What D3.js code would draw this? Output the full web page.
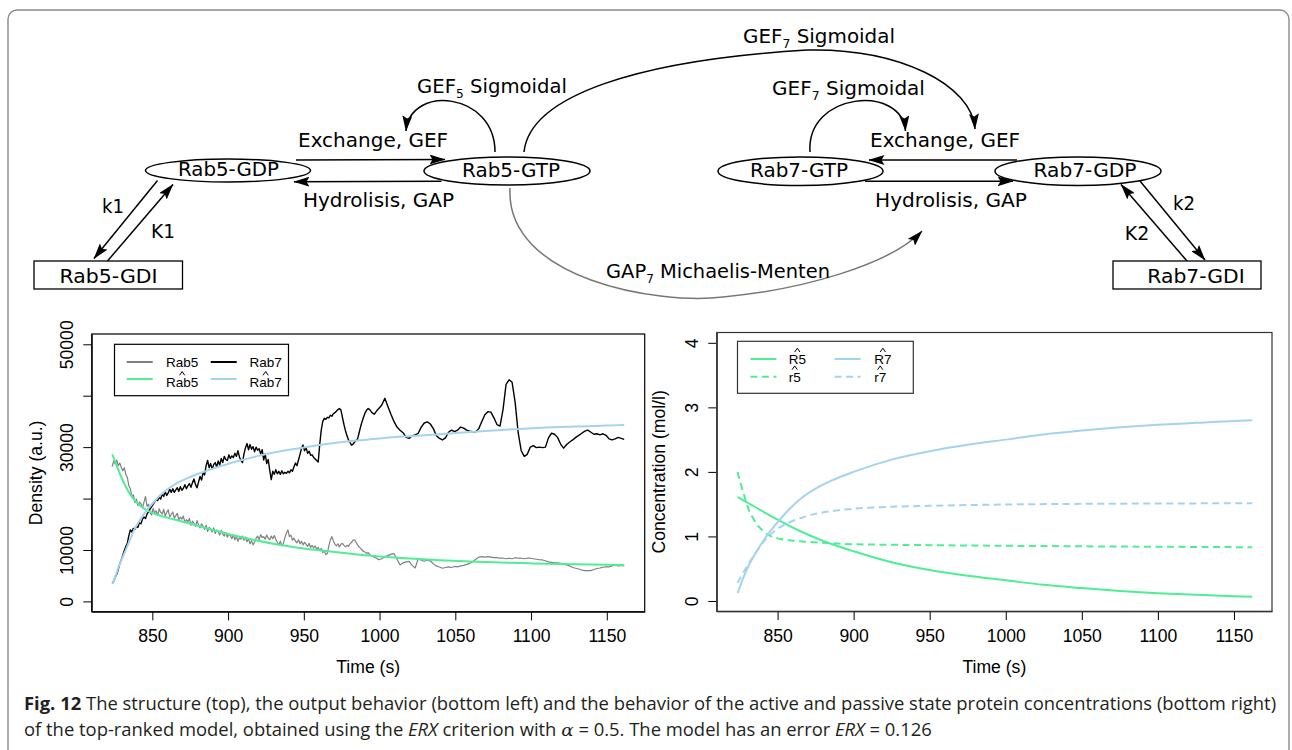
<!DOCTYPE html>
<html>
<head>
<meta charset="utf-8">
<script src="https://cdn.jsdelivr.net/npm/d3@7"></script>
<style>
  html, body { margin: 0; padding: 0; background: #fff; }
  svg { display: block; }
</style>
</head>
<body>
<svg id="fig" width="1292" height="750"></svg>
<script>
// ---------------- data ----------------
// Observed densities: 1 s sampling from 823.5 s to 999.5 s, then 2 s sampling to 1161.5 s
const obsTimeFine = d3.range(823.5, 1000, 1);
const obsTimeCoarse = d3.range(1001.5, 1162, 2);

const rab5ObsFine = [
  26200,27300,26700,27500,26400,26900,26100,25400,26000,24700,
  24100,22500,21900,20400,20700,19200,19900,18600,19300,19000,
  18200,19300,20400,18500,18900,17400,16800,18100,17200,17600,
  16700,18000,17300,17000,17900,16600,17300,17800,16500,16900,
  17400,16200,16700,17100,15800,16400,16000,16600,15300,15900,
  15500,16100,14800,15600,15200,14600,15700,14900,14300,15100,
  14600,14000,14800,13600,14400,14100,13500,14300,13200,13900,
  13500,12900,13800,13100,12700,13400,12500,13100,12800,12200,
  12900,12000,12600,11700,12400,12100,12700,11900,12500,11600,
  12200,11200,11800,11000,11500,12300,12700,12000,13000,12400,
  12600,12100,12900,12300,12000,12700,12200,12800,12100,11500,
  11000,11700,10800,11300,12400,13300,13900,12600,12900,11900,
  12300,11700,11400,12000,11200,11700,11000,11500,11100,10700,
  11300,10500,10900,10400,10800,10100,10500,9900,10300,9500,
  9800,9100,9300,10800,11900,12600,11800,11100,10800,11200,
  10600,11100,11300,10900,10600,10900,10700,11200,11500,11900,
  12000,11500,11000,10600,10300,10000,9700,9600,9300,9500,
  9100,8900,8800,8600,8500,8300,8100
];
const rab5ObsCoarse = [
  8300,8700,8900,9200,9300,8200,7100,7500,7700,7800,7000,6500,8300,8000,7800,8000,
  7900,7300,6900,6700,6450,6600,6700,6600,6800,6700,6900,7000,7200,7400,7700,8200,
  8600,8700,8600,8700,8600,8500,8500,8400,8400,8300,8400,8300,8500,8400,8400,8300,
  8400,8400,8300,8200,8100,8060,7900,7700,7600,7500,7500,7400,7300,7100,6900,6600,
  6450,6300,6100,6000,5980,6000,6200,6400,6500,6640,6700,6700,6900,7090,6900,7000,6900
];

const rab7ObsFine = [
  3500,3900,4700,5300,6200,7300,8100,9000,9900,10700,
  11300,12800,13900,13500,14200,14000,14600,14400,15300,15100,
  16000,16400,16100,17000,17400,18000,18400,18900,19300,19800,
  19600,20300,19900,20900,20400,21300,20600,21100,21800,21200,
  21900,21200,21700,22100,21400,22300,21600,22000,22700,21900,
  22500,22900,22200,23100,23800,22700,22100,23200,24300,23600,
  25100,24600,26400,27400,26000,26800,25700,26600,27000,26100,
  27300,26500,27800,27000,28200,27600,27400,28500,27800,28300,
  28000,28800,28200,29300,28100,27400,27000,28700,29900,30700,
  29500,30500,29600,30100,29100,30000,29400,29700,28700,29500,
  27500,28700,26800,27600,25500,23700,25300,24700,25600,24800,
  25300,24700,25400,24800,25100,24900,25300,25000,25600,25300,
  26200,26900,26400,27500,28600,29800,30400,29300,29900,28800,
  29200,28400,28500,28000,27700,27400,27100,30500,33300,35000,
  35600,35400,35800,35700,36200,36000,36500,36700,37000,37300,
  37500,37200,35800,34400,33200,32200,31400,30900,30400,30600,
  31000,31300,31600,32800,34000,35000,35900,36700,37200,37500,
  37300,36900,36600,36400,36800,37200,37500
];
const rab7ObsCoarse = [
  38200,39500,37900,36400,35000,33900,33300,32800,31900,31700,32200,32400,32700,33900,34700,34900,
  34500,33600,32200,31700,31400,31800,32900,33300,33000,33300,33900,33700,33300,33100,33000,33000,
  33600,35000,36300,36900,36800,35700,34400,34100,37300,42200,43100,42600,38700,32800,29300,28200,
  28600,30000,30300,29900,30000,29900,30000,31800,32700,32500,31900,30600,29800,30500,31000,31400,
  31900,32300,32700,33100,33300,32900,32500,32600,32400,32600,32300,31600,31400,31600,31900,31700,31500
];

// Fitted model outputs (density)
const rab5FitTime = [823.6,826,829,832,835,838,841,845,850,860,870,880,890,900,915,930,945,960,975,990,1005,1020,1040,1060,1080,1100,1120,1140,1161.5];
const rab5Fit     = [28600,26800,24500,22600,21000,19800,18900,18000,17200,16300,15500,14700,13900,13100,12100,11200,10500,9950,9450,9000,8650,8350,8000,7750,7550,7400,7280,7170,7080];
const rab7FitTime = [823.8,826,828,830,832,835,838,842,846,850,855,860,866,875,884,895,908,920,932,945,958,970,985,1000,1015,1030,1050,1070,1090,1110,1130,1150,1161.5];
const rab7Fit     = [3400,5200,6900,8300,9700,11800,13900,15900,17600,19000,20600,21800,22950,24200,25200,26300,27400,28300,29050,29700,30300,30800,31300,31700,32050,32300,32750,33150,33500,33800,34000,34200,34300];

// Estimated concentrations (mol/l)
const R5Time = [823.7,835,850,865,880,900,925,950,975,1000,1025,1050,1075,1100,1125,1150,1162];
const R5     = [1.61,1.46,1.26,1.08,0.93,0.77,0.60,0.48,0.39,0.32,0.25,0.20,0.155,0.12,0.095,0.075,0.067];
const r5Time = [823.7,826,828.5,831,833.5,836,839,842,846,850,860,870,885,900,950,1000,1050,1100,1162];
const r5     = [2.0,1.80,1.60,1.42,1.30,1.20,1.12,1.05,1.00,0.97,0.935,0.915,0.895,0.88,0.865,0.855,0.847,0.84,0.833];
const R7Time = [823.7,827,831,836,842,850,858,866,875,885,900,925,950,975,1000,1025,1050,1075,1100,1125,1150,1162];
const R7     = [0.12,0.33,0.55,0.76,0.98,1.22,1.43,1.60,1.74,1.86,2.00,2.19,2.32,2.42,2.50,2.58,2.64,2.69,2.73,2.76,2.79,2.80];
const r7Time = [823.7,827,831,836,842,850,858,866,875,885,900,925,950,1000,1050,1100,1162];
const r7     = [0.28,0.42,0.58,0.76,0.95,1.12,1.22,1.29,1.35,1.39,1.43,1.46,1.475,1.495,1.505,1.51,1.515];

// Axis ticks and labels
const timeTicks = [850, 900, 950, 1000, 1050, 1100, 1150];
const densityTicks = [0, 10000, 20000, 30000, 40000, 50000];
const densityTickLabels = [0, 10000, 30000, 50000];
const concTicks = [0, 1, 2, 3, 4];

// ---------------- drawing ----------------
const svg = d3.select("#fig");
const PLOT_FONT = "'Liberation Sans', Arial, Helvetica, sans-serif";
const DIAG_FONT = "'DejaVu Sans', Verdana, sans-serif";
const CAP_FONT = "'Open Sans', 'Noto Sans', sans-serif";
const GREEN = "#4EEE94", BLUE = "#A4D3EE", GREY = "#808080";

svg.append("rect").attr("width", 1292).attr("height", 750).attr("fill", "#fff");
svg.append("rect").attr("x", 8).attr("y", 10).attr("width", 1281).attr("height", 820).attr("rx", 9)
  .attr("fill", "none").attr("stroke", "#8a8a8a").attr("stroke-width", 1.4);

// text centred on cx and squeezed/stretched to a given width
function fitText(g, parts, cx, y, size, width) {
  const t = g.append("text").attr("font-size", size);
  parts.forEach(p => {
    const s = t.append("tspan").text(p.text);
    if (p.sub) s.attr("font-size", size * 0.62).attr("dy", size * 0.28);
    if (p.after) s.attr("dy", -size * 0.28);
  });
  const w = t.node().getBBox().width;
  t.attr("text-anchor", "middle")
   .attr("transform", `translate(${cx},${y}) scale(${width / w},1)`);
  return t;
}

// ---- structure diagram ----
const dg = svg.append("g").attr("font-family", DIAG_FONT);
const defs = svg.append("defs");
defs.append("marker").attr("id", "head").attr("viewBox", "0 0 16 10")
  .attr("refX", 15.5).attr("refY", 5).attr("markerWidth", 16).attr("markerHeight", 10)
  .attr("markerUnits", "userSpaceOnUse").attr("orient", "auto")
  .append("path").attr("d", "M0,0 L16,5 L0,10 L3,5 Z").attr("fill", "#000");

const species = ["Rab5-GDP", "Rab5-GTP", "Rab7-GTP", "Rab7-GDP", "Rab5-GDI", "Rab7-GDI"];
const nodeLayout = {
  "Rab5-GDP": { shape: "ellipse", cx: 228, cy: 170.5, rx: 82.5, ry: 11.5, tx: 228.5, ty: 176, tw: 101 },
  "Rab5-GTP": { shape: "ellipse", cx: 507, cy: 171, rx: 83, ry: 14, tx: 511, ty: 176.5, tw: 98 },
  "Rab7-GTP": { shape: "ellipse", cx: 800.5, cy: 171.2, rx: 82.5, ry: 14.3, tx: 799, ty: 176.5, tw: 98 },
  "Rab7-GDP": { shape: "ellipse", cx: 1078, cy: 171.2, rx: 83, ry: 14.3, tx: 1085, ty: 176.5, tw: 103 },
  "Rab5-GDI": { shape: "rect", x: 34, y: 261, w: 148.5, h: 28, tx: 108.5, ty: 282.5, tw: 98 },
  "Rab7-GDI": { shape: "rect", x: 1113, y: 261, w: 148, h: 28, tx: 1196, ty: 282.5, tw: 97.5 }
};

// reactions: straight arrows and curved regulation arrows
const reactions = [
  { d: "M296,160 L445,159.5", stroke: "#000" },
  { d: "M441.5,181.3 L294,181.7", stroke: "#000" },
  { d: "M1017,160 L869,160", stroke: "#000" },
  { d: "M865,181.3 L1013,181.3", stroke: "#000" },
  { d: "M157.5,180.5 L94,258.5", stroke: "#000" },
  { d: "M107.5,261 L173,184.5", stroke: "#000" },
  { d: "M1140,181 L1205,260", stroke: "#000" },
  { d: "M1187,261 L1121,184.5", stroke: "#000" },
  { d: "M495,152 C495,92 410,84 406,131", stroke: "#000" },
  { d: "M524,152 C530,95 640,60 807,50 C900,48 972,85 975,129", stroke: "#000" },
  { d: "M810,152 C806,92 902,84 905.5,131", stroke: "#000" },
  { d: "M510,188 C505,280 660,305 723,297 C800,290 890,265 922,231", stroke: "#777" }
];
reactions.forEach(r => {
  dg.append("path").attr("d", r.d).attr("fill", "none").attr("stroke", r.stroke)
    .attr("stroke-width", 1.5).attr("marker-end", "url(#head)");
});

species.forEach(name => {
  const n = nodeLayout[name];
  if (n.shape === "ellipse") {
    dg.append("ellipse").attr("cx", n.cx).attr("cy", n.cy).attr("rx", n.rx).attr("ry", n.ry)
      .attr("fill", "#fff").attr("stroke", "#000").attr("stroke-width", 1.5);
  } else {
    dg.append("rect").attr("x", n.x).attr("y", n.y).attr("width", n.w).attr("height", n.h)
      .attr("fill", "#fff").attr("stroke", "#000").attr("stroke-width", 1.3);
  }
  fitText(dg, [{ text: name }], n.tx, n.ty, 19, n.tw);
});

const rateLabels = [
  { parts: [{ text: "Exchange, GEF" }], x: 373, y: 146.5, w: 150 },
  { parts: [{ text: "Hydrolisis, GAP" }], x: 378.5, y: 206.5, w: 151 },
  { parts: [{ text: "Exchange, GEF" }], x: 945, y: 146.5, w: 150 },
  { parts: [{ text: "Hydrolisis, GAP" }], x: 951, y: 206.5, w: 152 },
  { parts: [{ text: "GEF" }, { text: "5", sub: true }, { text: " Sigmoidal", after: true }], x: 492, y: 92.5, w: 150 },
  { parts: [{ text: "GEF" }, { text: "7", sub: true }, { text: " Sigmoidal", after: true }], x: 819, y: 43, w: 152 },
  { parts: [{ text: "GEF" }, { text: "7", sub: true }, { text: " Sigmoidal", after: true }], x: 848.5, y: 94.5, w: 153 },
  { parts: [{ text: "GAP" }, { text: "7", sub: true }, { text: " Michaelis-Menten", after: true }], x: 718, y: 278, w: 224 },
  { parts: [{ text: "k1" }], x: 113, y: 213, w: 22 },
  { parts: [{ text: "K1" }], x: 163, y: 238, w: 24 },
  { parts: [{ text: "k2" }], x: 1184, y: 210, w: 22 },
  { parts: [{ text: "K2" }], x: 1137, y: 240, w: 24.5 }
];
rateLabels.forEach(l => fitText(dg, l.parts, l.x, l.y, 19, l.w));

// ---- time-course panels ----
function paddedDomain(ext) { const p = 0.04 * (ext[1] - ext[0]); return [ext[0] - p, ext[1] + p]; }
const timeExtent = [823.5, 1161.5];

function panel(cfg) {
  const g = svg.append("g").attr("font-family", PLOT_FONT);
  const x = d3.scaleLinear().domain(paddedDomain(timeExtent)).range([cfg.left, cfg.right]);
  const y = d3.scaleLinear().domain(paddedDomain(cfg.yExtent)).range([cfg.bottom, cfg.top]);

  // x axis
  const xa = g.append("g").attr("transform", `translate(0,${cfg.bottom})`)
    .call(d3.axisBottom(x).tickValues(timeTicks).tickSize(8.7).tickSizeOuter(0).tickFormat(d3.format("d")));
  xa.select(".domain").attr("stroke", "#000").attr("stroke-width", 1);
  xa.selectAll(".tick line").attr("stroke", "#000").attr("stroke-width", 1);
  xa.selectAll(".tick text").attr("y", 30.3).attr("dy", null).attr("font-size", 17.6).attr("fill", "#000");

  // y axis
  const ya = g.append("g").attr("transform", `translate(${cfg.left},0)`)
    .call(d3.axisLeft(y).tickValues(cfg.yTicks).tickSize(8.4).tickSizeOuter(0)
      .tickFormat(d => cfg.yLabels.includes(d) ? String(d) : ""));
  ya.select(".domain").attr("stroke", "#000").attr("stroke-width", 1);
  ya.selectAll(".tick line").attr("stroke", "#000").attr("stroke-width", 1);
  ya.selectAll(".tick text").attr("x", null).attr("y", 0).attr("dy", "0.35em")
    .attr("text-anchor", "middle").attr("transform", "translate(-24.7,0) rotate(-90)")
    .attr("font-size", 17.6).attr("fill", "#000");

  // frame
  g.append("rect").attr("x", cfg.left).attr("y", cfg.top)
    .attr("width", cfg.right - cfg.left).attr("height", cfg.bottom - cfg.top)
    .attr("fill", "none").attr("stroke", cfg.frame).attr("stroke-width", 1.2);

  // titles
  g.append("text").attr("x", (cfg.left + cfg.right) / 2).attr("y", 672.5)
    .attr("text-anchor", "middle").attr("font-size", 17.6).text("Time (s)");
  g.append("text").attr("transform", `translate(${cfg.ytitleX},${(cfg.top + cfg.bottom) / 2}) rotate(-90)`)
    .attr("dy", "0.35em").attr("text-anchor", "middle").attr("font-size", 17.6).text(cfg.ytitle);

  const clip = "clip" + cfg.id;
  defs.append("clipPath").attr("id", clip).append("rect")
    .attr("x", cfg.left).attr("y", cfg.top).attr("width", cfg.right - cfg.left).attr("height", cfg.bottom - cfg.top);
  const lines = g.append("g").attr("clip-path", `url(#${clip})`);
  cfg.series.forEach(s => {
    const pts = s.t.map((t, i) => [t, s.v[i]]);
    lines.append("path").datum(pts)
      .attr("d", d3.line().x(d => x(d[0])).y(d => y(d[1])).curve(s.smooth ? d3.curveMonotoneX : d3.curveLinear))
      .attr("fill", "none").attr("stroke", s.color).attr("stroke-width", s.width)
      .attr("stroke-dasharray", s.dash || null).attr("stroke-linejoin", "round");
  });

  // legend
  const L = cfg.legend;
  g.append("rect").attr("x", L.x0).attr("y", L.y0).attr("width", L.x1 - L.x0).attr("height", L.y1 - L.y0)
    .attr("fill", "#fff").attr("stroke", cfg.frame).attr("stroke-width", 1.2);
  L.items.forEach(it => {
    g.append("line").attr("x1", it.lx).attr("x2", it.lx + it.len).attr("y1", it.ly).attr("y2", it.ly)
      .attr("stroke", it.color).attr("stroke-width", 2).attr("stroke-dasharray", it.dash || null);
    const t = g.append("text").attr("x", it.tx).attr("y", it.ty).attr("font-size", 13.5).text(it.label);
    if (it.hat) {
      // estimate accent drawn as a small caret above the label
      const w = t.node().getComputedTextLength();
      const hx = it.tx + w / 2, hy = it.ty - 12;
      g.append("path").attr("d", `M${hx - 2.6},${hy} L${hx},${hy - 3.8} L${hx + 2.6},${hy}`)
        .attr("fill", "none").attr("stroke", "#000").attr("stroke-width", 1);
    }
  });
}

panel({
  id: "A", left: 91.7, right: 644.7, top: 334, bottom: 611.7,
  yExtent: [0, 50000], yTicks: densityTicks, yLabels: densityTickLabels,
  ytitle: "Density (a.u.)", ytitleX: 35.5, frame: "#000",
  series: [
    { t: obsTimeFine.concat(obsTimeCoarse), v: rab5ObsFine.concat(rab5ObsCoarse), color: GREY, width: 1.2 },
    { t: obsTimeFine.concat(obsTimeCoarse), v: rab7ObsFine.concat(rab7ObsCoarse), color: "#000", width: 1.4 },
    { t: rab5FitTime, v: rab5Fit, color: GREEN, width: 2, smooth: true },
    { t: rab7FitTime, v: rab7Fit, color: BLUE, width: 2, smooth: true }
  ],
  legend: {
    x0: 114.5, x1: 288.5, y0: 344.3, y1: 395.7,
    items: [
      { label: "Rab5", color: GREY, lx: 126.7, len: 26, ly: 362, tx: 166, ty: 366.7 },
      { label: "Rab7", color: "#000", lx: 210.7, len: 26, ly: 362, tx: 249.5, ty: 366.7 },
      { label: "Rab5", color: GREEN, lx: 126.7, len: 26, ly: 379, tx: 166, ty: 387.3, hat: true },
      { label: "Rab7", color: BLUE, lx: 210.7, len: 26, ly: 379, tx: 249.5, ty: 387.3, hat: true }
    ]
  }
});

panel({
  id: "B", left: 716.7, right: 1272, top: 332.5, bottom: 611.3,
  yExtent: [0, 4], yTicks: concTicks, yLabels: concTicks,
  ytitle: "Concentration (mol/l)", ytitleX: 659, frame: "#333",
  series: [
    { t: R5Time, v: R5, color: GREEN, width: 2, smooth: true },
    { t: r5Time, v: r5, color: GREEN, width: 2, smooth: true, dash: "7,4.5" },
    { t: R7Time, v: R7, color: BLUE, width: 2, smooth: true },
    { t: r7Time, v: r7, color: BLUE, width: 2, smooth: true, dash: "7,4.5" }
  ],
  legend: {
    x0: 737.5, x1: 913.3, y0: 341.3, y1: 393.3,
    items: [
      { label: "R5", color: GREEN, lx: 750.4, len: 26, ly: 359, tx: 788.7, ty: 364, hat: true },
      { label: "R7", color: BLUE, lx: 834.6, len: 26, ly: 359, tx: 874.2, ty: 364, hat: true },
      { label: "r5", color: GREEN, lx: 750.4, len: 26, ly: 376.7, tx: 788.7, ty: 381.7, hat: true, dash: "7,4.5" },
      { label: "r7", color: BLUE, lx: 834.6, len: 26, ly: 376.7, tx: 874.2, ty: 381.7, hat: true, dash: "7,4.5" }
    ]
  }
});

// ---- caption ----
const cap = svg.append("g").attr("font-family", CAP_FONT).attr("fill", "#231f20");
const line1 = cap.append("text").attr("font-size", 17.5);
line1.append("tspan").attr("font-weight", "bold").text("Fig. 12");
line1.append("tspan").text(" The structure (top), the output behavior (bottom left) and the behavior of the active and passive state protein concentrations (bottom right)");
const sx = 1253 / line1.node().getBBox().width;
line1.attr("transform", `translate(24,710) scale(${sx},1)`);

const line2 = cap.append("text").attr("font-size", 17.5).attr("transform", `translate(24,736) scale(${sx},1)`);
line2.append("tspan").text("of the top-ranked model, obtained using the ");
line2.append("tspan").attr("font-style", "italic").text("ERX");
line2.append("tspan").text(" criterion with ");
line2.append("tspan").attr("font-style", "italic").attr("font-family", "'DejaVu Serif', serif").text("α");
line2.append("tspan").text(" = 0.5. The model has an error ");
line2.append("tspan").attr("font-style", "italic").text("ERX");
line2.append("tspan").text(" = 0.126");
</script>
</body>
</html>
